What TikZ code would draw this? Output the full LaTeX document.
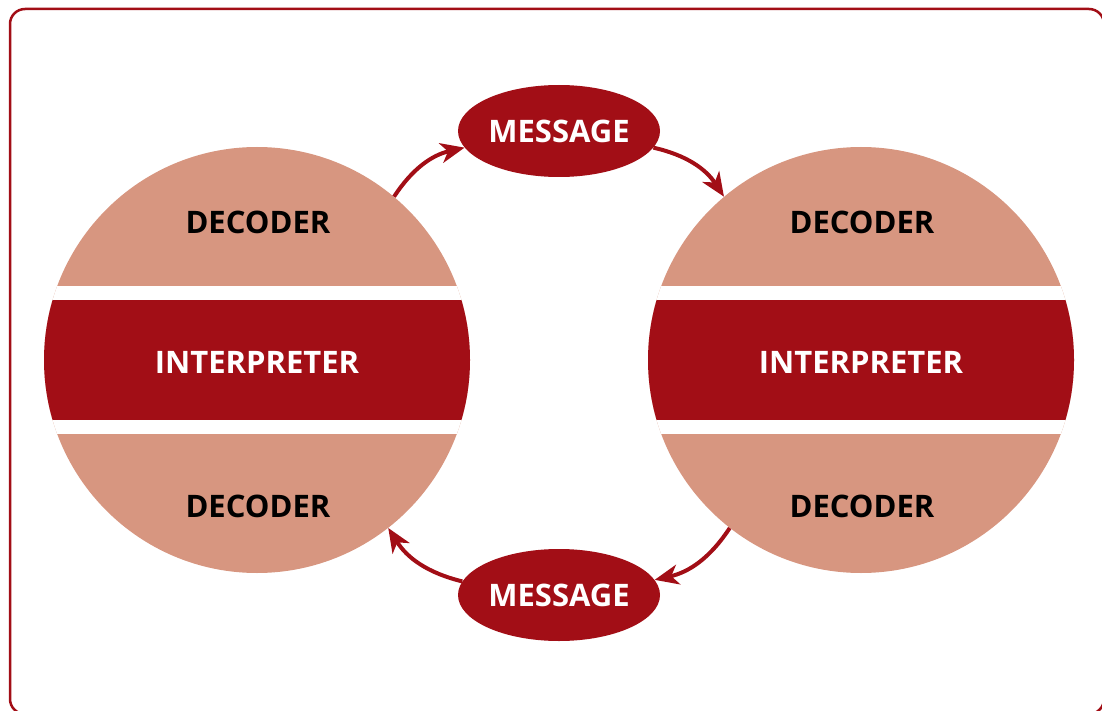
\documentclass[tikz,border=0pt]{standalone}
\usepackage{fontspec}
\setmainfont{Open Sans}
\usetikzlibrary{shapes.geometric,arrows.meta}

\definecolor{darkred}{HTML}{A20E16}
\definecolor{salmon}{HTML}{D79680}

\tikzset{
  msg/.style={ellipse,fill=darkred,minimum width=202pt,minimum height=92pt,inner sep=0pt,
    text=white,font=\bfseries\fontsize{31}{31}\selectfont},
  lbl/.style={font=\bfseries\fontsize{31}{31}\selectfont},
  flow/.style={darkred,line width=4pt,-{Stealth[length=24pt,width=20pt,inset=7pt]},bend left=22}
}

\begin{document}
\begin{tikzpicture}[x=1pt,y=-1pt]

\useasboundingbox (0,0) rectangle (1102,711);
\clip (0,0) rectangle (1102,711);
\draw[darkred,line width=2.5pt,rounded corners=15pt] (10,9) rectangle (1104,714);

% the two circles
\foreach \cx/\nm in {257/L,861/R}{
  \node[circle,minimum size=426pt,inner sep=0pt] (\nm) at (\cx,360) {};
  \begin{scope}
    \clip (\cx,360) circle (213);
    \fill[salmon] (\cx-220,140) rectangle (\cx+220,580);
    \fill[white] (\cx-220,286) rectangle (\cx+220,434);
    \fill[darkred] (\cx-220,300) rectangle (\cx+220,420);
  \end{scope}
  \node[lbl] (\nm top) at (\cx+1,222) {DECODER};
  \node[lbl,text=white] (\nm mid) at (\cx,362) {INTERPRETER};
  \node[lbl] (\nm bot) at (\cx+1,506) {DECODER};
}

\node[msg] (m1) at (559,131) {MESSAGE};
\node[msg] (m2) at (559,595) {MESSAGE};

\draw[flow] (L.50) to (m1.190);
\draw[flow] (m1.-10) to (R.130);
\draw[flow] (R.232) to (m2.9);
\draw[flow] (m2.172) to (L.-52);

\end{tikzpicture}
\end{document}
